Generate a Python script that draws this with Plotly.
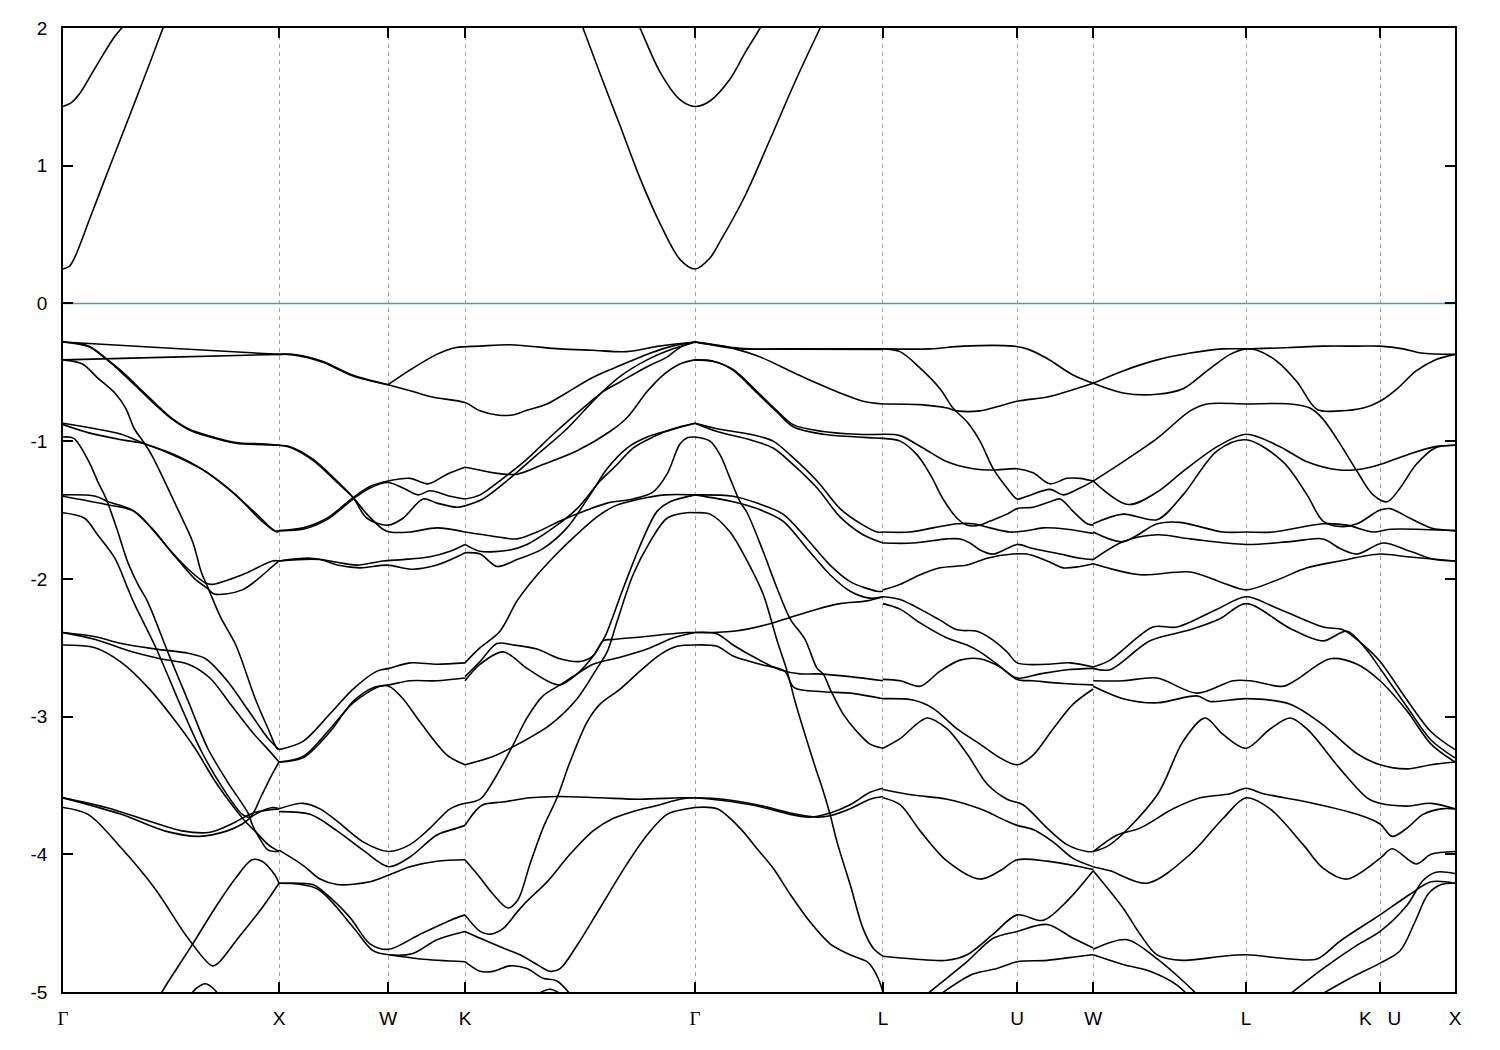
import plotly.graph_objects as go

# ---------------- axis data ----------------
SYM_K = [0.0, 1.0, 1.505, 1.861, 2.926, 3.796, 4.417, 4.769, 5.477, 6.097, 6.444]
SYM_LABELS = ["Γ", "X", "W", "K", "Γ", "L", "U", "W", "L", "K\u00a0\u00a0\u00a0U", "X"]
E_TICKS = [-5, -4, -3, -2, -1, 0, 1, 2]
E_LABELS = ["-5", "-4", "-3", "-2", "-1", "0", "1", "2"]
E_RANGE = [-5, 2]
FERMI_E = 0.0

# ---------------- conduction bands (k in 2pi/a, E in eV) ----------------
CB_G0_LOW = [(0, 0.25), (0.03, 0.27), (0.056, 0.34), (0.125, 0.62), (0.218, 1.0), (0.31, 1.37), (0.403, 1.75), (0.463, 2.0), (0.48, 2.07)]
CB_G0_HIGH = [(0, 1.43), (0.04, 1.46), (0.08, 1.53), (0.16, 1.74), (0.24, 1.94), (0.287, 2.03), (0.30, 2.07)]
CB_G1_LOW = [(2.37, 2.15), (2.407, 2.0), (2.486, 1.67), (2.579, 1.29), (2.671, 0.91), (2.764, 0.58), (2.856, 0.32), (2.926, 0.25),
             (2.995, 0.33), (3.042, 0.45), (3.157, 0.78), (3.273, 1.19), (3.389, 1.61), (3.505, 2.0), (3.55, 2.15)]
CB_G1_HIGH = [(2.634, 2.12), (2.671, 2.0), (2.764, 1.68), (2.856, 1.48), (2.926, 1.43), (2.995, 1.47), (3.088, 1.63),
              (3.157, 1.82), (3.227, 2.0), (3.264, 2.12)]

# ---------------- valence bands: Gamma - X ----------------
GX_A1 = [(0, -0.28), (0.5, -0.325), (1.0, -0.37)]
GX_A2 = [(0, -0.41), (0.5, -0.39), (1.0, -0.37)]
GX_A3 = [(0, -0.28), (0.12, -0.31), (0.2, -0.40), (0.27, -0.49), (0.37, -0.64), (0.43, -0.73), (0.5, -0.83), (0.58, -0.91),
         (0.67, -0.96), (0.80, -1.01), (0.92, -1.02), (1.0, -1.03)]
GX_A3B = [(0, -0.28), (0.12, -0.315), (0.2, -0.405), (0.27, -0.50), (0.37, -0.65), (0.43, -0.74), (0.5, -0.835), (0.58, -0.915),
          (0.67, -0.965), (0.80, -1.015), (0.92, -1.025), (1.0, -1.03)]
GX_A4 = [(0, -0.41), (0.09, -0.44), (0.16, -0.54), (0.24, -0.65), (0.29, -0.76), (0.33, -0.91), (0.37, -1.0), (0.41, -1.10),
         (0.47, -1.29), (0.53, -1.49), (0.6, -1.73), (0.64, -1.95), (0.67, -2.06), (0.73, -2.28), (0.80, -2.48), (0.89, -2.87),
         (0.95, -3.09), (0.99, -3.23), (1.0, -3.24)]
GX_A5 = [(0, -0.87), (0.15, -0.91), (0.27, -0.95), (0.38, -1.02), (0.52, -1.10), (0.64, -1.20), (0.76, -1.34), (0.89, -1.52),
         (0.98, -1.65), (1.0, -1.65)]
GX_A6 = [(0, -0.88), (0.12, -0.94), (0.27, -0.99), (0.38, -1.02), (0.55, -1.13), (0.67, -1.23), (0.80, -1.39), (0.92, -1.58),
         (0.99, -1.66), (1.0, -1.65)]
GX_A7 = [(0, -0.97), (0.05, -0.98), (0.12, -1.15), (0.16, -1.29), (0.20, -1.42), (0.25, -1.64), (0.30, -1.88), (0.35, -2.05),
         (0.39, -2.16), (0.49, -2.55), (0.58, -2.89), (0.67, -3.23), (0.76, -3.47), (0.86, -3.71), (0.875, -3.78), (0.92, -3.91),
         (0.95, -3.97), (1.0, -3.98)]
GX_A8 = [(0, -1.52), (0.10, -1.56), (0.16, -1.68), (0.24, -1.85), (0.30, -2.07), (0.33, -2.18), (0.43, -2.5), (0.55, -2.94),
         (0.64, -3.25), (0.74, -3.52), (0.83, -3.71), (0.866, -3.73), (0.92, -3.57), (0.968, -3.42), (1.0, -3.33)]
GX_G1 = [(0, -1.39), (0.15, -1.40), (0.21, -1.44), (0.32, -1.50), (0.41, -1.63), (0.5, -1.80), (0.58, -1.93), (0.66, -2.03),
         (0.69, -2.04), (0.83, -1.97), (0.97, -1.87), (1.0, -1.87)]
GX_G2 = [(0, -1.40), (0.2, -1.46), (0.33, -1.51), (0.43, -1.67), (0.52, -1.84), (0.61, -2.0), (0.67, -2.07), (0.70, -2.11),
         (0.83, -2.08), (0.97, -1.91), (1.0, -1.87)]
GX_Q1 = [(0, -2.39), (0.15, -2.42), (0.27, -2.47), (0.43, -2.51), (0.58, -2.54), (0.66, -2.58), (0.76, -2.74), (0.86, -2.96),
         (0.95, -3.16), (1.0, -3.24)]
GX_Q2 = [(0, -2.39), (0.15, -2.44), (0.3, -2.52), (0.45, -2.58), (0.58, -2.62), (0.68, -2.72), (0.78, -2.92), (0.88, -3.12),
         (0.95, -3.24), (1.0, -3.33)]
GX_Q3 = [(0, -2.48), (0.148, -2.5), (0.273, -2.61), (0.394, -2.79), (0.519, -3.03), (0.611, -3.23), (0.704, -3.47),
         (0.796, -3.67), (0.843, -3.76), (0.9, -3.85), (0.95, -3.93), (1.0, -3.98)]
GX_R1 = [(0, -3.59), (0.27, -3.71), (0.47, -3.83), (0.63, -3.87), (0.76, -3.83), (0.83, -3.78), (0.89, -3.71), (0.97, -3.66), (1.0, -3.67)]
GX_R2 = [(0, -3.59), (0.2, -3.66), (0.4, -3.76), (0.55, -3.83), (0.68, -3.84), (0.78, -3.78), (0.88, -3.70), (1.0, -3.67)]
GX_V = [(0, -3.66), (0.116, -3.71), (0.273, -3.96), (0.426, -4.25), (0.579, -4.61), (0.69, -4.81), (0.718, -4.79),
        (0.81, -4.61), (0.921, -4.39), (1.0, -4.21)]
GX_RISE = [(0.44, -5.06), (0.458, -5.0), (0.597, -4.66), (0.704, -4.39), (0.796, -4.18), (0.875, -4.04), (0.921, -4.05),
           (0.981, -4.15), (1.0, -4.21)]
GX_BUMP = [(0.58, -5.04), (0.62, -4.97), (0.66, -4.94), (0.70, -4.98), (0.73, -5.04)]

# ---------------- X - W - K ----------------
XK_B1 = [(1.0, -0.37), (1.06, -0.37), (1.2, -0.42), (1.34, -0.52), (1.505, -0.59)]
XK_B1B = [(1.0, -0.37), (1.06, -0.372), (1.2, -0.425), (1.34, -0.525), (1.505, -0.59)]
KG_B2 = [(1.505, -0.59), (1.6, -0.49), (1.73, -0.37), (1.82, -0.32), (1.93, -0.31), (2.07, -0.30), (2.3, -0.33), (2.45, -0.34),
         (2.61, -0.35), (2.76, -0.31), (2.926, -0.28)]
KG_B3 = [(1.505, -0.59), (1.62, -0.64), (1.71, -0.68), (1.861, -0.72), (1.93, -0.78), (2.01, -0.81), (2.08, -0.81), (2.14, -0.78),
         (2.24, -0.73), (2.33, -0.65), (2.45, -0.54), (2.55, -0.47), (2.72, -0.36), (2.82, -0.31), (2.926, -0.28)]
XK_B4 = [(1.0, -1.03), (1.05, -1.04), (1.157, -1.13), (1.269, -1.29), (1.343, -1.41), (1.407, -1.56), (1.505, -1.61),
         (1.574, -1.56), (1.667, -1.42), (1.731, -1.45), (1.824, -1.48), (1.861, -1.47)]
XK_B4B = [(1.0, -1.03), (1.05, -1.045), (1.157, -1.14), (1.269, -1.30), (1.343, -1.41), (1.407, -1.53), (1.481, -1.64),
          (1.514, -1.66), (1.606, -1.66), (1.731, -1.63), (1.861, -1.66)]
XK_B5 = [(1.0, -1.65), (1.111, -1.63), (1.222, -1.56), (1.343, -1.41), (1.421, -1.33), (1.505, -1.29), (1.606, -1.27),
         (1.690, -1.31), (1.778, -1.24), (1.861, -1.19)]
XK_B5B = [(1.0, -1.65), (1.111, -1.64), (1.222, -1.57), (1.343, -1.42), (1.421, -1.34), (1.505, -1.30), (1.574, -1.34),
          (1.644, -1.39), (1.699, -1.36), (1.792, -1.40), (1.861, -1.42)]
XK_C1 = [(1.0, -1.87), (1.144, -1.85), (1.269, -1.88), (1.361, -1.90), (1.481, -1.87), (1.574, -1.86), (1.699, -1.84),
         (1.792, -1.80), (1.861, -1.75)]
XK_C2 = [(1.0, -1.87), (1.190, -1.86), (1.269, -1.90), (1.375, -1.92), (1.5, -1.90), (1.620, -1.93), (1.731, -1.90),
         (1.824, -1.84), (1.861, -1.81)]
XK_D1 = [(1.0, -3.24), (1.111, -3.18), (1.236, -2.98), (1.343, -2.80), (1.454, -2.67), (1.509, -2.65), (1.606, -2.61),
         (1.731, -2.62), (1.861, -2.61)]
XK_D2 = [(1.0, -3.33), (1.111, -3.30), (1.236, -3.11), (1.343, -2.89), (1.435, -2.79), (1.509, -2.77), (1.606, -2.74),
         (1.731, -2.74), (1.861, -2.72)]
XK_D3 = [(1.0, -3.33), (1.111, -3.29), (1.236, -3.09), (1.343, -2.90), (1.468, -2.78), (1.509, -2.78), (1.574, -2.87),
         (1.653, -3.04), (1.778, -3.28), (1.861, -3.35)]
XK_D4 = [(1.0, -3.67), (1.111, -3.63), (1.190, -3.67), (1.269, -3.76), (1.389, -3.91), (1.509, -3.98), (1.606, -3.93),
         (1.699, -3.81), (1.792, -3.67), (1.861, -3.63)]
XK_D5 = [(1.0, -3.69), (1.144, -3.71), (1.269, -3.83), (1.389, -3.97), (1.509, -4.09), (1.606, -4.02), (1.731, -3.86),
         (1.824, -3.81), (1.861, -3.79)]
XK_D6 = [(1.0, -3.97), (1.111, -4.08), (1.190, -4.18), (1.269, -4.22), (1.421, -4.20), (1.509, -4.15), (1.606, -4.09),
         (1.731, -4.05), (1.861, -4.04)]
XK_D7 = [(1.0, -4.21), (1.157, -4.22), (1.204, -4.27), (1.329, -4.46), (1.421, -4.65), (1.509, -4.69), (1.653, -4.58),
         (1.792, -4.48), (1.861, -4.44)]
XK_D8 = [(1.0, -4.21), (1.176, -4.25), (1.343, -4.53), (1.435, -4.70), (1.509, -4.73), (1.620, -4.72), (1.731, -4.62),
         (1.861, -4.56)]
XK_D9 = [(1.509, -4.73), (1.653, -4.76), (1.861, -4.78)]

# ---------------- K - Gamma ----------------
KG_E1 = [(1.861, -1.19), (1.898, -1.20), (1.991, -1.23), (2.102, -1.24), (2.222, -1.17), (2.380, -1.07), (2.532, -0.93),
         (2.611, -0.83), (2.704, -0.64), (2.778, -0.52), (2.856, -0.44), (2.926, -0.41)]
KG_E2 = [(1.861, -1.42), (1.931, -1.39), (2.037, -1.27), (2.148, -1.13), (2.269, -0.95), (2.407, -0.76), (2.5, -0.64),
         (2.579, -0.57), (2.704, -0.46), (2.796, -0.39), (2.856, -0.32), (2.926, -0.28)]
KG_E3 = [(1.861, -1.47), (1.944, -1.42), (2.069, -1.27), (2.194, -1.10), (2.333, -0.91), (2.472, -0.68), (2.579, -0.53),
         (2.704, -0.41), (2.824, -0.33), (2.926, -0.28)]
KG_E4 = [(1.861, -1.66), (1.991, -1.69), (2.102, -1.71), (2.194, -1.66), (2.301, -1.58), (2.426, -1.50), (2.519, -1.45),
         (2.639, -1.42), (2.731, -1.37), (2.796, -1.24), (2.856, -1.02), (2.89, -0.975), (2.926, -0.97)]
KG_E5 = [(1.861, -1.75), (1.931, -1.80), (2.069, -1.79), (2.148, -1.75), (2.269, -1.63), (2.380, -1.49), (2.486, -1.29),
         (2.565, -1.17), (2.639, -1.05), (2.731, -0.97), (2.824, -0.91), (2.926, -0.87)]
KG_E6 = [(1.861, -1.81), (1.931, -1.82), (2.009, -1.91), (2.102, -1.86), (2.222, -1.78), (2.333, -1.63), (2.440, -1.39),
         (2.519, -1.20), (2.611, -1.05), (2.704, -0.97), (2.810, -0.92), (2.926, -0.87)]
KG_F1 = [(1.861, -2.61), (1.931, -2.50), (2.023, -2.38), (2.102, -2.16), (2.185, -1.99), (2.278, -1.83), (2.370, -1.69),
         (2.472, -1.55), (2.556, -1.47), (2.671, -1.42), (2.787, -1.39), (2.926, -1.39)]
KG_H2 = [(1.861, -2.71), (1.931, -2.60), (2.009, -2.47), (2.083, -2.48), (2.194, -2.51), (2.301, -2.58), (2.394, -2.60),
         (2.454, -2.56), (2.5, -2.45), (2.546, -2.44), (2.685, -2.42), (2.889, -2.39), (2.926, -2.39)]
KG_H3 = [(1.861, -2.74), (1.931, -2.62), (2.037, -2.53), (2.148, -2.65), (2.241, -2.74), (2.301, -2.77), (2.380, -2.69),
         (2.454, -2.56), (2.509, -2.42), (2.542, -2.29), (2.593, -2.07), (2.685, -1.71), (2.750, -1.51), (2.810, -1.44), (2.926, -1.39)]
KG_H7 = [(1.861, -3.63), (1.931, -3.60), (1.991, -3.47), (2.079, -3.22), (2.148, -3.01), (2.222, -2.85), (2.301, -2.77),
         (2.380, -2.69), (2.454, -2.62), (2.579, -2.57), (2.704, -2.51), (2.824, -2.43), (2.926, -2.39)]
KG_H4 = [(1.861, -3.35), (1.991, -3.29), (2.083, -3.22), (2.255, -3.06), (2.380, -2.87), (2.472, -2.65), (2.519, -2.53),
         (2.565, -2.31), (2.639, -1.97), (2.718, -1.73), (2.796, -1.56), (2.889, -1.52), (2.926, -1.52)]
KG_H8 = [(1.861, -4.04), (1.931, -4.17), (1.991, -4.29), (2.060, -4.39), (2.106, -4.33), (2.162, -4.07), (2.222, -3.81),
         (2.287, -3.59), (2.347, -3.33), (2.426, -3.04), (2.486, -2.91), (2.579, -2.80), (2.671, -2.67), (2.764, -2.55),
         (2.843, -2.49), (2.926, -2.48)]
KG_H9 = [(1.861, -3.79), (1.907, -3.69), (1.944, -3.64), (2.037, -3.62), (2.162, -3.59), (2.287, -3.58), (2.486, -3.59),
         (2.671, -3.60), (2.856, -3.59), (2.926, -3.59)]
KG_I1 = [(1.861, -4.44), (1.931, -4.56), (1.977, -4.58), (2.037, -4.54), (2.102, -4.42), (2.148, -4.34), (2.241, -4.20),
         (2.347, -4.0), (2.454, -3.83), (2.546, -3.74), (2.639, -3.69), (2.764, -3.64), (2.856, -3.60), (2.926, -3.59)]
KG_I2 = [(1.861, -4.56), (1.931, -4.61), (2.037, -4.68), (2.116, -4.73), (2.194, -4.80), (2.255, -4.85), (2.301, -4.83),
         (2.380, -4.66), (2.486, -4.39), (2.611, -4.07), (2.704, -3.86), (2.796, -3.71), (2.889, -3.67), (2.926, -3.66)]
KG_I3 = [(1.861, -4.78), (1.931, -4.85), (1.991, -4.85), (2.069, -4.81), (2.148, -4.83), (2.222, -4.90), (2.287, -4.92), (2.370, -5.06)]
KG_I4 = [(2.162, -5.05), (2.255, -4.98), (2.333, -5.05)]

# ---------------- Gamma - L ----------------
GL_J1 = [(2.926, -0.28), (3.134, -0.33), (3.366, -0.33), (3.796, -0.33)]
GL_J1B = [(2.926, -0.28), (3.134, -0.325), (3.366, -0.332), (3.796, -0.335)]
GL_J2 = [(2.926, -0.28), (3.056, -0.31), (3.213, -0.38), (3.366, -0.49), (3.491, -0.58), (3.597, -0.65), (3.704, -0.71), (3.796, -0.73)]
GL_J3 = [(2.926, -0.41), (3.009, -0.42), (3.102, -0.48), (3.213, -0.64), (3.306, -0.78), (3.380, -0.88), (3.519, -0.93),
         (3.676, -0.95), (3.796, -0.95)]
GL_J3B = [(2.926, -0.41), (3.009, -0.42), (3.102, -0.485), (3.213, -0.65), (3.306, -0.79), (3.380, -0.895), (3.519, -0.95),
          (3.676, -0.97), (3.796, -0.98)]
GL_J4 = [(2.926, -0.87), (3.028, -0.91), (3.181, -0.95), (3.287, -1.0), (3.366, -1.10), (3.491, -1.29), (3.597, -1.49),
         (3.704, -1.61), (3.769, -1.66), (3.796, -1.66)]
GL_J4B = [(2.926, -0.87), (3.028, -0.93), (3.181, -0.99), (3.287, -1.05), (3.366, -1.15), (3.491, -1.34), (3.597, -1.55),
          (3.704, -1.68), (3.796, -1.74)]
GL_J5 = [(2.926, -0.97), (2.995, -1.0), (3.042, -1.10), (3.088, -1.27), (3.134, -1.44), (3.167, -1.52), (3.241, -1.80),
         (3.306, -2.07), (3.366, -2.29), (3.435, -2.44), (3.491, -2.65), (3.519, -2.69), (3.551, -2.80), (3.611, -2.98),
         (3.676, -3.11), (3.736, -3.20), (3.796, -3.23)]
GL_J6 = [(2.926, -1.39), (3.102, -1.40), (3.213, -1.45), (3.333, -1.53), (3.444, -1.71), (3.551, -1.90), (3.644, -2.02),
         (3.769, -2.09), (3.796, -2.09)]
GL_J6B = [(2.926, -1.39), (3.102, -1.44), (3.213, -1.49), (3.333, -1.58), (3.444, -1.78), (3.551, -1.97), (3.644, -2.09),
          (3.736, -2.14), (3.796, -2.13)]
GL_J7 = [(2.926, -1.52), (2.995, -1.53), (3.088, -1.66), (3.167, -1.87), (3.241, -2.11), (3.273, -2.27), (3.306, -2.45),
         (3.352, -2.67), (3.389, -2.89), (3.435, -3.13), (3.481, -3.36), (3.519, -3.54), (3.551, -3.71), (3.583, -3.91),
         (3.644, -4.22), (3.704, -4.54), (3.75, -4.68), (3.796, -4.74)]
GL_K1 = [(2.926, -2.39), (3.102, -2.38), (3.264, -2.33), (3.366, -2.28), (3.491, -2.22), (3.597, -2.18), (3.722, -2.16), (3.796, -2.13)]
GL_K2 = [(2.926, -2.39), (3.028, -2.40), (3.102, -2.48), (3.213, -2.58), (3.319, -2.66), (3.412, -2.69), (3.491, -2.69),
         (3.644, -2.71), (3.796, -2.74)]
GL_K3 = [(2.926, -2.48), (3.028, -2.49), (3.102, -2.56), (3.227, -2.62), (3.340, -2.67), (3.385, -2.79), (3.519, -2.82),
         (3.644, -2.83), (3.796, -2.87)]
GL_L1 = [(2.926, -3.59), (3.056, -3.60), (3.213, -3.64), (3.366, -3.70), (3.491, -3.73), (3.551, -3.72), (3.644, -3.67),
         (3.736, -3.60), (3.796, -3.58)]
GL_L2 = [(2.926, -3.59), (3.056, -3.61), (3.213, -3.65), (3.366, -3.71), (3.458, -3.73), (3.551, -3.70), (3.644, -3.64),
         (3.736, -3.55), (3.796, -3.52)]
GL_L3 = [(2.926, -3.66), (3.028, -3.67), (3.134, -3.81), (3.213, -3.96), (3.287, -4.10), (3.366, -4.29), (3.458, -4.49),
         (3.551, -4.65), (3.644, -4.73), (3.722, -4.78), (3.75, -4.83), (3.792, -4.98), (3.80, -5.05)]

# ---------------- L - U - W ----------------
LW_M1 = [(3.796, -0.33), (4.014, -0.33), (4.167, -0.31), (4.398, -0.31), (4.463, -0.33), (4.556, -0.40), (4.676, -0.52), (4.769, -0.58)]
LW_M2 = [(3.796, -0.33), (3.875, -0.35), (3.968, -0.47), (4.060, -0.62), (4.120, -0.76), (4.185, -0.86), (4.245, -1.0),
         (4.306, -1.2), (4.370, -1.34), (4.417, -1.42), (4.463, -1.40), (4.569, -1.35), (4.630, -1.39), (4.708, -1.34), (4.769, -1.29)]
LW_M3 = [(3.796, -0.73), (3.968, -0.735), (4.093, -0.76), (4.139, -0.78), (4.245, -0.78), (4.324, -0.75), (4.417, -0.71),
         (4.556, -0.68), (4.648, -0.64), (4.769, -0.58)]
LW_M4 = [(3.796, -0.95), (3.875, -0.96), (3.981, -1.05), (4.093, -1.15), (4.213, -1.20), (4.306, -1.21), (4.417, -1.20),
         (4.491, -1.23), (4.569, -1.31), (4.648, -1.27), (4.708, -1.27), (4.769, -1.29)]
LW_M5 = [(3.796, -0.98), (3.875, -1.0), (3.954, -1.10), (4.014, -1.24), (4.074, -1.42), (4.139, -1.56), (4.185, -1.61),
         (4.245, -1.61), (4.292, -1.58), (4.370, -1.53), (4.417, -1.49), (4.491, -1.48), (4.569, -1.44), (4.616, -1.42),
         (4.676, -1.51), (4.741, -1.60), (4.769, -1.61)]
LW_M6 = [(3.796, -1.66), (3.921, -1.66), (4.028, -1.63), (4.139, -1.60), (4.213, -1.60), (4.292, -1.63), (4.384, -1.66),
         (4.463, -1.65), (4.537, -1.63), (4.648, -1.64), (4.769, -1.67)]
LW_M7 = [(3.796, -1.74), (3.935, -1.74), (4.093, -1.71), (4.153, -1.71), (4.199, -1.74), (4.245, -1.79), (4.306, -1.82),
         (4.370, -1.78), (4.417, -1.75), (4.491, -1.78), (4.616, -1.82), (4.708, -1.85), (4.769, -1.86)]
LW_M8 = [(3.796, -2.08), (3.875, -2.04), (3.968, -1.97), (4.060, -1.92), (4.185, -1.90), (4.278, -1.85), (4.398, -1.82),
         (4.463, -1.82), (4.556, -1.87), (4.630, -1.92), (4.708, -1.91), (4.769, -1.89)]
LW_M9 = [(3.796, -2.13), (3.875, -2.15), (3.968, -2.22), (4.060, -2.30), (4.139, -2.37), (4.231, -2.38), (4.292, -2.43),
         (4.370, -2.53), (4.417, -2.61), (4.556, -2.62), (4.662, -2.61), (4.769, -2.64)]
LW_M10 = [(3.796, -2.18), (3.875, -2.22), (3.968, -2.32), (4.093, -2.43), (4.185, -2.48), (4.245, -2.53), (4.324, -2.62),
          (4.417, -2.72), (4.523, -2.69), (4.648, -2.66), (4.769, -2.65)]
LW_M11 = [(3.796, -2.73), (3.875, -2.74), (3.968, -2.78), (4.060, -2.67), (4.153, -2.59), (4.245, -2.58), (4.338, -2.64),
          (4.417, -2.73), (4.491, -2.74), (4.630, -2.76), (4.769, -2.77)]
LW_M12 = [(3.796, -2.87), (3.935, -2.88), (4.028, -2.94), (4.139, -3.09), (4.245, -3.20), (4.338, -3.30), (4.417, -3.35),
          (4.491, -3.28), (4.583, -3.09), (4.676, -2.91), (4.769, -2.80)]
LW_M13 = [(3.796, -3.23), (3.875, -3.16), (4.0, -3.01), (4.093, -3.09), (4.185, -3.27), (4.278, -3.49), (4.370, -3.60),
          (4.444, -3.64), (4.556, -3.81), (4.648, -3.93), (4.741, -3.98), (4.769, -3.98)]
LW_M14 = [(3.796, -3.53), (3.935, -3.57), (4.093, -3.60), (4.245, -3.67), (4.370, -3.76), (4.417, -3.79), (4.491, -3.82),
          (4.583, -3.91), (4.676, -4.03), (4.769, -4.09)]
LW_M15 = [(3.796, -3.59), (3.875, -3.64), (3.968, -3.83), (4.093, -4.05), (4.245, -4.18), (4.338, -4.12), (4.417, -4.04),
          (4.556, -4.05), (4.708, -4.09), (4.769, -4.11)]
LW_M16 = [(3.796, -4.74), (3.935, -4.76), (4.093, -4.77), (4.185, -4.73), (4.306, -4.58), (4.417, -4.44), (4.537, -4.48),
          (4.648, -4.34), (4.769, -4.12)]
LW_M17 = [(3.98, -5.04), (4.185, -4.78), (4.306, -4.61), (4.417, -4.56), (4.556, -4.51), (4.676, -4.61), (4.769, -4.68)]
LW_M18 = [(4.04, -5.04), (4.213, -4.87), (4.324, -4.83), (4.417, -4.78), (4.556, -4.77), (4.708, -4.74), (4.769, -4.73)]

# ---------------- W - L - K|U - X ----------------
WX_N1 = [(4.769, -0.58), (4.907, -0.49), (5.065, -0.41), (5.218, -0.36), (5.370, -0.33), (5.477, -0.33), (5.681, -0.32),
         (5.833, -0.31), (5.991, -0.31), (6.097, -0.31), (6.204, -0.33), (6.287, -0.36), (6.444, -0.37)]
WX_N2 = [(4.769, -0.58), (4.907, -0.65), (5.065, -0.66), (5.185, -0.62), (5.296, -0.49), (5.403, -0.37), (5.477, -0.33),
         (5.528, -0.34), (5.620, -0.42), (5.713, -0.57), (5.806, -0.77), (5.912, -0.78), (6.019, -0.76), (6.097, -0.71),
         (6.176, -0.62), (6.264, -0.49), (6.352, -0.41), (6.444, -0.37)]
WX_N3 = [(4.769, -1.29), (4.907, -1.15), (5.065, -0.98), (5.218, -0.78), (5.296, -0.73), (5.477, -0.73), (5.681, -0.73),
         (5.773, -0.76), (5.833, -0.84), (5.912, -1.02), (5.991, -1.22), (6.065, -1.39), (6.130, -1.44), (6.190, -1.34),
         (6.264, -1.17), (6.352, -1.05), (6.444, -1.03)]
WX_N4 = [(4.769, -1.29), (4.931, -1.46), (5.065, -1.37), (5.185, -1.22), (5.343, -1.04), (5.477, -0.95), (5.634, -1.04),
         (5.759, -1.15), (5.912, -1.21), (6.019, -1.20), (6.097, -1.17), (6.222, -1.10), (6.352, -1.04), (6.444, -1.03)]
WX_N5 = [(4.769, -1.60), (4.907, -1.53), (5.065, -1.57), (5.185, -1.39), (5.343, -1.07), (5.477, -0.99), (5.648, -1.15),
         (5.759, -1.39), (5.833, -1.58), (5.912, -1.62), (5.991, -1.60), (6.097, -1.50), (6.144, -1.49), (6.236, -1.56),
         (6.333, -1.63), (6.444, -1.65)]
WX_N6 = [(4.769, -1.66), (4.907, -1.73), (5.065, -1.60), (5.171, -1.59), (5.370, -1.66), (5.477, -1.66), (5.602, -1.66),
         (5.833, -1.60), (5.944, -1.61), (6.065, -1.66), (6.144, -1.64), (6.444, -1.65)]
WX_N7 = [(4.769, -1.86), (4.907, -1.73), (5.065, -1.68), (5.218, -1.71), (5.477, -1.75), (5.681, -1.73), (5.833, -1.71),
         (5.912, -1.78), (5.991, -1.82), (6.111, -1.74), (6.236, -1.80), (6.352, -1.86), (6.444, -1.87)]
WX_N8 = [(4.769, -1.89), (4.986, -1.97), (5.218, -1.95), (5.370, -2.03), (5.477, -2.08), (5.602, -2.02), (5.759, -1.92),
         (5.912, -1.87), (6.097, -1.82), (6.222, -1.84), (6.444, -1.87)]
WX_P1 = [(4.769, -2.64), (4.847, -2.59), (5.046, -2.35), (5.157, -2.35), (5.343, -2.22), (5.477, -2.13), (5.602, -2.20),
         (5.833, -2.35), (5.926, -2.37), (6.019, -2.48), (6.097, -2.60), (6.222, -2.88), (6.333, -3.11), (6.444, -3.24)]
WX_P2 = [(4.769, -2.65), (4.847, -2.66), (5.032, -2.45), (5.218, -2.37), (5.356, -2.29), (5.477, -2.18), (5.681, -2.36),
         (5.833, -2.45), (5.944, -2.38), (6.037, -2.52), (6.097, -2.65), (6.222, -2.93), (6.333, -3.17), (6.444, -3.30)]
WX_P3 = [(4.769, -2.74), (4.907, -2.74), (5.065, -2.72), (5.250, -2.83), (5.417, -2.74), (5.495, -2.74), (5.648, -2.78),
         (5.713, -2.73), (5.866, -2.58), (5.991, -2.62), (6.097, -2.74), (6.222, -2.96), (6.333, -3.2), (6.444, -3.33)]
WX_P4 = [(4.769, -2.78), (4.907, -2.87), (5.065, -2.90), (5.250, -2.85), (5.310, -2.89), (5.477, -2.87), (5.681, -2.91),
         (5.833, -3.06), (5.991, -3.27), (6.097, -3.35), (6.222, -3.38), (6.333, -3.35), (6.444, -3.33)]
WX_P5 = [(4.769, -3.98), (4.847, -3.93), (5.065, -3.57), (5.185, -3.18), (5.287, -3.01), (5.370, -3.13), (5.477, -3.23),
         (5.588, -3.09), (5.681, -3.01), (5.759, -3.09), (5.912, -3.38), (6.037, -3.59), (6.097, -3.63), (6.222, -3.65),
         (6.333, -3.63), (6.444, -3.67)]
WX_P6 = [(4.769, -3.98), (4.880, -3.86), (4.986, -3.81), (5.139, -3.67), (5.264, -3.59), (5.403, -3.56), (5.477, -3.52),
         (5.556, -3.56), (5.759, -3.62), (5.991, -3.71), (6.097, -3.78), (6.153, -3.87), (6.222, -3.81), (6.296, -3.71),
         (6.380, -3.67), (6.444, -3.67)]
WX_P7 = [(4.769, -4.09), (4.847, -4.12), (5.019, -4.21), (5.218, -4.0), (5.370, -3.74), (5.477, -3.59), (5.588, -3.67),
         (5.741, -3.93), (5.833, -4.10), (5.944, -4.18), (6.097, -4.03), (6.153, -3.96), (6.264, -4.07), (6.333, -4.0), (6.444, -3.98)]
WX_P8 = [(4.769, -4.12), (4.907, -4.39), (4.986, -4.58), (5.065, -4.73), (5.185, -4.77), (5.370, -4.74), (5.477, -4.73),
         (5.681, -4.76), (5.806, -4.76), (5.912, -4.63), (6.097, -4.44), (6.236, -4.29), (6.333, -4.20), (6.444, -4.21)]
WX_P9 = [(4.769, -4.69), (4.926, -4.62), (5.065, -4.76), (5.185, -4.92), (5.264, -5.04)]
WX_P10 = [(4.769, -4.73), (4.907, -4.80), (5.032, -4.85), (5.157, -4.95), (5.218, -5.04)]
WX_R1 = [(5.66, -5.04), (5.833, -4.83), (5.991, -4.66), (6.097, -4.56), (6.222, -4.37), (6.296, -4.19), (6.356, -4.13), (6.444, -4.14)]
WX_R2 = [(5.80, -5.04), (5.958, -4.90), (6.097, -4.79), (6.190, -4.70), (6.259, -4.49), (6.319, -4.29), (6.380, -4.22), (6.444, -4.21)]

CONDUCTION = [CB_G0_LOW, CB_G0_HIGH, CB_G1_LOW, CB_G1_HIGH]
VALENCE = [
    GX_A1, GX_A2, GX_A3, GX_A3B, GX_A4, GX_A5, GX_A6, GX_A7, GX_A8, GX_G1, GX_G2, GX_Q1, GX_Q2, GX_Q3,
    GX_R1, GX_R2, GX_V, GX_RISE, GX_BUMP,
    XK_B1, XK_B1B, KG_B2, KG_B3, XK_B4, XK_B4B, XK_B5, XK_B5B, XK_C1, XK_C2,
    XK_D1, XK_D2, XK_D3, XK_D4, XK_D5, XK_D6, XK_D7, XK_D8, XK_D9,
    KG_E1, KG_E2, KG_E3, KG_E4, KG_E5, KG_E6, KG_F1, KG_H2, KG_H3, KG_H7, KG_H4, KG_H8, KG_H9,
    KG_I1, KG_I2, KG_I3, KG_I4,
    GL_J1, GL_J1B, GL_J2, GL_J3, GL_J3B, GL_J4, GL_J4B, GL_J5, GL_J6, GL_J6B, GL_J7, GL_K1, GL_K2, GL_K3,
    GL_L1, GL_L2, GL_L3,
    LW_M1, LW_M2, LW_M3, LW_M4, LW_M5, LW_M6, LW_M7, LW_M8, LW_M9, LW_M10, LW_M11, LW_M12, LW_M13, LW_M14,
    LW_M15, LW_M16, LW_M17, LW_M18,
    WX_N1, WX_N2, WX_N3, WX_N4, WX_N5, WX_N6, WX_N7, WX_N8, WX_P1, WX_P2, WX_P3, WX_P4, WX_P5, WX_P6,
    WX_P7, WX_P8, WX_P9, WX_P10, WX_R1, WX_R2,
]

fig = go.Figure()

# Fermi level
fig.add_trace(go.Scatter(x=[SYM_K[0], SYM_K[-1]], y=[FERMI_E, FERMI_E], mode="lines",
                         line=dict(color="#3d9fd9", width=1.6), hoverinfo="skip", showlegend=False))

for band in CONDUCTION + VALENCE:
    fig.add_trace(go.Scatter(
        x=[p[0] for p in band], y=[p[1] for p in band], mode="lines",
        line=dict(color="black", width=1.6, shape="spline", smoothing=0.9),
        hoverinfo="skip", showlegend=False))

gamma_span = '<span style="font-family:\'Liberation Serif\', \'DejaVu Serif\', serif">Γ</span>'
xt_text = [gamma_span if s == "Γ" else s for s in SYM_LABELS]

# the page body keeps its default 8px margin, so the figure is sized to fit inside the window
fig.update_layout(
    width=1484, height=1034,
    margin=dict(l=55, r=37, t=20, b=50),
    paper_bgcolor="white", plot_bgcolor="white",
    font=dict(family="Liberation Sans, Arial, sans-serif", size=19, color="black"),
    xaxis=dict(range=[SYM_K[0], SYM_K[-1]], tickmode="array", tickvals=SYM_K, ticktext=xt_text,
               ticks="inside", ticklen=10, tickwidth=1.5, tickcolor="black",
               showline=True, linecolor="black", linewidth=1.5, mirror="ticks",
               showgrid=True, gridcolor="#a8a8a8", gridwidth=1, griddash="4px,4px",
               zeroline=False, ticklabelstandoff=8, automargin=False),
    yaxis=dict(range=E_RANGE, tickmode="array", tickvals=E_TICKS, ticktext=E_LABELS,
               ticks="inside", ticklen=10, tickwidth=1.5, tickcolor="black",
               showline=True, linecolor="black", linewidth=1.5, mirror="ticks",
               showgrid=False, zeroline=False, ticklabelstandoff=10, automargin=False),
)

fig.write_html("out.html")
